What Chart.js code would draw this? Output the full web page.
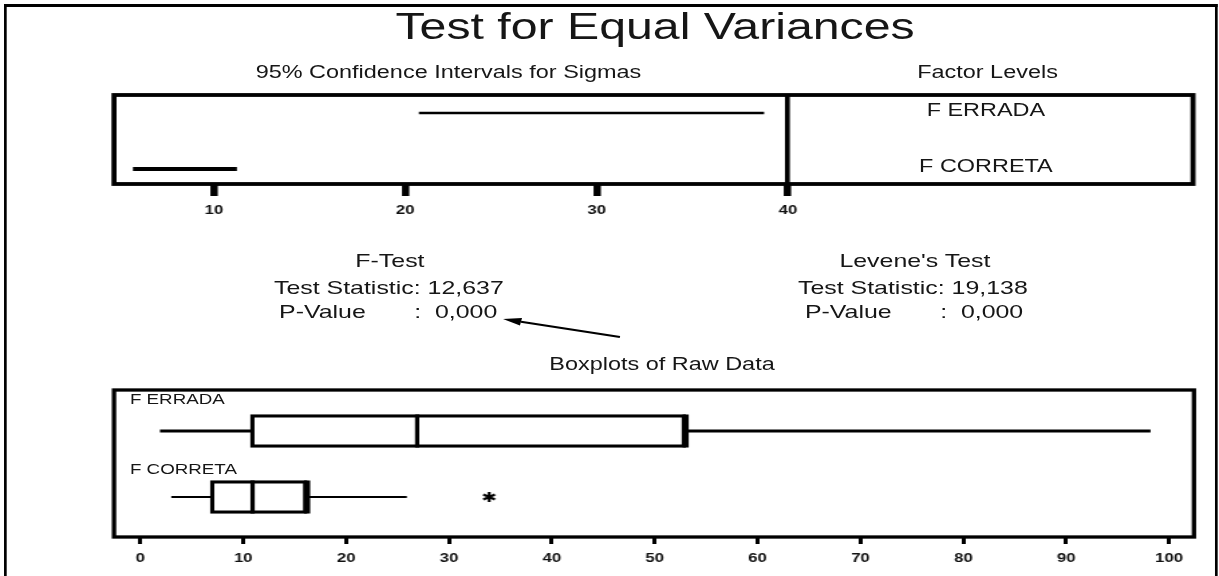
<!DOCTYPE html>
<html>
<head>
<meta charset="utf-8">
<script src="https://cdn.jsdelivr.net/npm/chart.js"></script>
<style>
  html, body { margin: 0; padding: 0; background: #fff; }
  #page { position: absolute; left: 0; top: 0; width: 1219px; height: 576px; overflow: hidden; background: #fff; }
  #stage { position: absolute; left: 0; top: 0; width: 910px; height: 576px; transform-origin: 0 0; }
  #stage canvas { position: absolute; left: 0; top: 0; }
  .txt { position: absolute; white-space: pre; line-height: 1; color: #161616;
         font-family: 'Liberation Sans', Arial, Helvetica, sans-serif; }
  #frame { position: absolute; left: 3px; top: 4px; width: 905.7px; height: 700px; box-sizing: border-box;
           border-top: 3px solid #000; border-left: 2.3px solid #000; border-right: 2.3px solid #000; }
</style>
</head>
<body>
<div id="page">
  <div id="stage">
    <div id="frame"></div>
    <canvas id="ci" width="910" height="576"></canvas>
    <canvas id="box" width="910" height="576"></canvas>
    <svg id="arrow" width="910" height="576" style="position:absolute;left:0;top:0"></svg>
  </div>
</div>
<script>
// ---------------- data ----------------
const levels = ['F CORRETA', 'F ERRADA'];          // level index 0 (bottom), 1 (top)
const sigmaLower = [5.77, 20.71];                   // 95% CI for sigma, lower bound
const sigmaUpper = [11.2, 38.75];                   // 95% CI for sigma, upper bound
const sigmaTicks = [10, 20, 30, 40];

const boxMin    = [3.0, 1.9];
const boxQ1     = [6.8, 10.7];
const boxMedian = [10.9, 26.9];
const boxQ3     = [16.2, 53.0];
const boxMax    = [25.9, 98.2];
const outlierLevel = [0];
const outlierValue = [33.9];
const rawTicks = [0, 10, 20, 30, 40, 50, 60, 70, 80, 90, 100];

const testNames  = ['F-Test', "Levene's Test"];
const testStats  = ['12,637', '19,138'];
const testPvals  = ['0,000', '0,000'];

// ---------------- layout helpers ----------------
const SX = 1219 / 910;
document.getElementById('stage').style.transform = 'scaleX(' + SX + ')';
const FONT = "'Liberation Sans', Arial, Helvetica, sans-serif";
const stage = document.getElementById('stage');

function addText(str, x, baseline, fs, align) {
  const d = document.createElement('div');
  d.className = 'txt';
  d.textContent = str;
  d.style.fontSize = fs + 'px';
  d.style.top = (baseline - 0.8465 * fs) + 'px';
  d.style.left = x + 'px';
  if (align === 'center') d.style.transform = 'translateX(-50%)';
  stage.appendChild(d);
}

addText('Test for Equal Variances', 489, 39, 36, 'center');
addText('95% Confidence Intervals for Sigmas', 334.8, 79.3, 17.5, 'center');
addText('Factor Levels', 737.2, 79.3, 17.5, 'center');
addText(levels[1], 736, 116.7, 17.5, 'center');
addText(levels[0], 736, 173.3, 17.5, 'center');

addText(testNames[0], 291.1, 267.3, 18.6, 'center');
addText('Test Statistic: ' + testStats[0], 204.5, 295, 18.6, 'left');
addText('P-Value       :  ' + testPvals[0], 208.3, 318.3, 18.6, 'left');
addText(testNames[1], 683.0, 267.3, 18.6, 'center');
addText('Test Statistic: ' + testStats[1], 595.7, 295, 18.6, 'left');
addText('P-Value       :  ' + testPvals[1], 600.9, 318.3, 18.6, 'left');

addText('Boxplots of Raw Data', 494.2, 371, 17.5, 'center');
addText(levels[1], 97, 404, 14, 'left');
addText(levels[0], 97, 474, 14, 'left');

// arrow annotation
(function () {
  const svg = document.getElementById('arrow');
  const tail = [462.8, 337], tip = [375.5, 319];
  const dx = tip[0] - tail[0], dy = tip[1] - tail[1], L = Math.hypot(dx, dy);
  const ux = dx / L, uy = dy / L, hl = 13.7, hw = 3.8;
  const bx = tip[0] - ux * hl, by = tip[1] - uy * hl;
  const ns = 'http://www.w3.org/2000/svg';
  const line = document.createElementNS(ns, 'line');
  line.setAttribute('x1', tail[0]); line.setAttribute('y1', tail[1]);
  line.setAttribute('x2', bx); line.setAttribute('y2', by);
  line.setAttribute('stroke', '#000'); line.setAttribute('stroke-width', '1.9');
  svg.appendChild(line);
  const poly = document.createElementNS(ns, 'polygon');
  poly.setAttribute('points', [tip, [bx - uy * hw, by + ux * hw], [bx + uy * hw, by - ux * hw]].map(p => p.join(',')).join(' '));
  poly.setAttribute('fill', '#000');
  svg.appendChild(poly);
})();

// asterisk point style for outliers
const asterisk = (function () {
  const c = document.createElement('canvas');
  c.width = 12; c.height = 12;
  const g = c.getContext('2d');
  g.strokeStyle = '#000'; g.lineWidth = 2.2; g.lineCap = 'butt';
  const r = 5;
  [90, 30, 150].forEach(a => {
    const t = a * Math.PI / 180;
    g.beginPath();
    g.moveTo(6 - r * Math.cos(t), 6 - r * Math.sin(t));
    g.lineTo(6 + r * Math.cos(t), 6 + r * Math.sin(t));
    g.stroke();
  });
  return c;
})();

// ---------------- charts ----------------
const framePlugin = {
  id: 'frame',
  afterDatasetsDraw(chart, args, opts) {
    const { ctx, chartArea: { left, top, right, bottom } } = chart;
    ctx.save();
    ctx.strokeStyle = '#000';
    ctx.lineWidth = opts.lineWidth || 3;
    ctx.strokeRect(left, top, right - left, bottom - top);
    ctx.restore();
  }
};

const tickFont = { family: FONT, size: 12.5, weight: 'bold' };

// Top: confidence intervals for sigmas
new Chart(document.getElementById('ci'), {
  type: 'scatter',
  data: {
    datasets: levels.map((lv, i) => ({
      label: lv,
      data: [{ x: sigmaLower[i], y: i }, { x: sigmaUpper[i], y: i }],
      showLine: true,
      borderColor: '#000',
      borderWidth: i === 0 ? 4 : 2.5,
      borderCapStyle: 'butt',
      pointRadius: 0,
      fill: false
    }))
  },
  options: {
    responsive: false, animation: false, events: [],
    layout: { padding: { left: 85.1, right: 19.4, top: 95, bottom: 362 } },
    plugins: { legend: { display: false }, tooltip: { enabled: false }, frame: { lineWidth: 3.8 } },
    scales: {
      x: {
        type: 'linear', min: 4.78, max: 61.16, offset: false,
        afterBuildTicks: s => { s.ticks = sigmaTicks.map(v => ({ value: v })); },
        afterFit: s => { s.height = 30; },
        border: { display: false },
        grid: {
          color: c => (c.tick && c.tick.value === 40) ? '#000' : 'rgba(0,0,0,0)',
          lineWidth: 3.6, tickColor: '#000', tickWidth: 5.5, tickLength: 12, offset: false
        },
        ticks: { font: tickFont, color: '#111', padding: 7, autoSkip: false, maxRotation: 0 }
      },
      y: { type: 'linear', display: false, min: -0.268, max: 1.321, offset: false }
    }
  },
  plugins: [framePlugin]
});

// Bottom: boxplots of raw data
const HALF = 0.25;
const boxDatasets = [];
levels.forEach((lv, i) => {
  const w = i === 1 ? 3 : 2.2;
  boxDatasets.push({ type: 'scatter', label: lv + ' median', showLine: true, pointRadius: 0, borderColor: '#000', borderWidth: 3.2, borderCapStyle: 'butt',
    data: [{ x: boxMedian[i], y: i - HALF }, { x: boxMedian[i], y: i + HALF }] });
  boxDatasets.push({ type: 'scatter', label: lv + ' q3 edge', showLine: true, pointRadius: 0, borderColor: '#000', borderWidth: 4.6, borderCapStyle: 'butt',
    data: [{ x: boxQ3[i], y: i - HALF }, { x: boxQ3[i], y: i + HALF }] });
  boxDatasets.push({ type: 'scatter', label: lv + ' lower whisker', showLine: true, pointRadius: 0, borderColor: '#000', borderWidth: w, borderCapStyle: 'butt',
    data: [{ x: boxMin[i], y: i }, { x: boxQ1[i], y: i }] });
  boxDatasets.push({ type: 'scatter', label: lv + ' upper whisker', showLine: true, pointRadius: 0, borderColor: '#000', borderWidth: w, borderCapStyle: 'butt',
    data: [{ x: boxQ3[i], y: i }, { x: boxMax[i], y: i }] });
});
boxDatasets.push({ type: 'scatter', label: 'outliers', pointStyle: asterisk, pointRadius: 6,
  data: outlierValue.map((v, k) => ({ x: v, y: outlierLevel[k] })) });
boxDatasets.push({ type: 'bar', label: 'boxes', indexAxis: 'y', barThickness: 33, backgroundColor: '#fff', borderColor: '#000', borderWidth: 3.3, borderSkipped: false,
  data: levels.map((lv, i) => ({ y: i, x: [boxQ1[i], boxQ3[i]] })) });

new Chart(document.getElementById('box'), {
  type: 'scatter',
  data: { datasets: boxDatasets },
  options: {
    responsive: false, animation: false, events: [],
    layout: { padding: { left: 85.1, right: 18.7, top: 390, bottom: 9 } },
    plugins: { legend: { display: false }, tooltip: { enabled: false }, frame: { lineWidth: 3.3 } },
    scales: {
      x: {
        type: 'linear', min: -2.57, max: 102.42, offset: false,
        afterBuildTicks: s => { s.ticks = rawTicks.map(v => ({ value: v })); },
        afterFit: s => { s.height = 30; },
        border: { display: false },
        grid: { drawOnChartArea: false, color: '#000', tickColor: '#000', tickWidth: 3, tickLength: 7, offset: false },
        ticks: { font: tickFont, color: '#111', padding: 7, autoSkip: false, maxRotation: 0 }
      },
      y: { type: 'linear', display: false, min: -0.606, max: 1.621, offset: false, grid: { offset: false } }
    }
  },
  plugins: [framePlugin]
});
</script>
</body>
</html>
